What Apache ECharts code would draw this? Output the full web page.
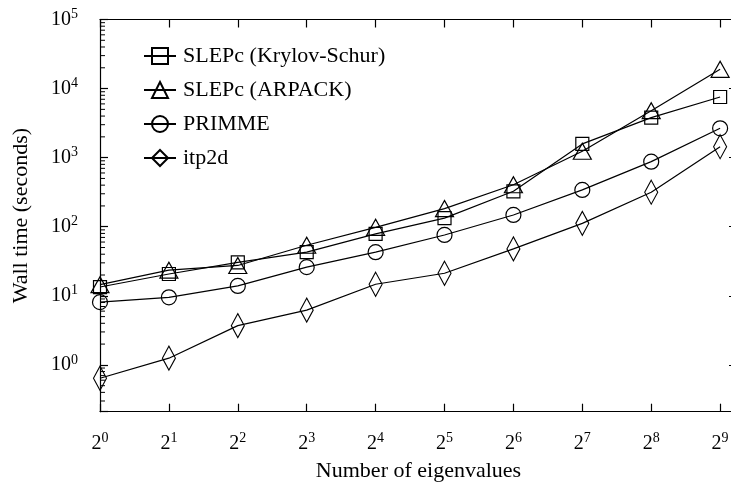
<!DOCTYPE html>
<html><head><meta charset="utf-8">
<script src="https://cdn.jsdelivr.net/npm/echarts@6/dist/echarts.min.js"></script>
<style>html,body{margin:0;padding:0;background:#fff}#c{width:731px;height:489px}</style>
</head><body><div id="c"></div>
<script>
// ---- data ----
const eigenvalueCounts = [1, 2, 4, 8, 16, 32, 64, 128, 256, 512];
const seriesNames = ['SLEPc (Krylov-Schur)', 'SLEPc (ARPACK)', 'PRIMME', 'itp2d'];
const krylovSchur = [13.4, 20.7, 30.5, 43, 79, 133, 326, 1580, 3790, 7550];
const arpack      = [14.5, 23.5, 27.5, 54, 98, 183, 406, 1240, 4790, 19000];
const primme      = [8.1, 9.5, 13.9, 26, 42.8, 76, 148, 341, 875, 2660];
const itp2dTimes  = [0.64, 1.25, 3.7, 6.2, 14.7, 21.2, 47.7, 112, 316, 1440];
const xExponentMax = 9.245;           // right edge of plot in powers of 2
const yMin = 0.21, yMax = 100000;
const minorMultipliers = [2, 3, 4, 5, 6, 7, 8, 9];
const minorDecades = [0.1, 1, 10, 100, 1000, 10000];

// ---- styling ----
const serif = 'Liberation Serif';
const black = '#000';
const yMinorTicks = [];
minorDecades.forEach(d => minorMultipliers.forEach(m => {
  const v = d * m; if (v >= yMin && v <= yMax) yMinorTicks.push(v);
}));

const richX = {
  b: {fontFamily: serif, fontSize: 20, color: black, lineHeight: 24},
  s: {fontFamily: serif, fontSize: 14, color: black, lineHeight: 14, verticalAlign: 'top'}
};
const axisLine = {show: true, onZero: false, lineStyle: {color: black, width: 1.2}};
const axisTick = {show: true, inside: true, length: 8, lineStyle: {color: black, width: 1.2}};

function powLabel(base, v) {
  const k = Math.log(v) / Math.log(base);
  if (Math.abs(k - Math.round(k)) > 0.01) return '';
  return '{b|' + base + '}{s|' + Math.round(k) + '}';
}

const markers = [
  {symbol: 'rect', size: 13},
  {symbol: 'triangle', size: [18, 16]},
  {symbol: 'circle', size: 15},
  {symbol: 'diamond', size: [13, 24]}
];
const allValues = [krylovSchur, arpack, primme, itp2dTimes];

const series = allValues.map((vals, i) => ({
  name: seriesNames[i],
  type: 'line',
  data: eigenvalueCounts.map((x, j) => [x, vals[j]]),
  symbol: markers[i].symbol,
  symbolSize: markers[i].size,
  showSymbol: true,
  itemStyle: {color: 'rgba(255,255,255,0)', borderColor: black, borderWidth: 1.2},
  lineStyle: {color: black, width: 1.2},
  emphasis: {disabled: true},
  z: 3
}));

series.push({
  type: 'custom',
  coordinateSystem: 'cartesian2d',
  silent: true,
  clip: false,
  z: 5,
  data: yMinorTicks.map(v => [1, v]),
  renderItem: function (params, api) {
    const p = api.coord([api.value(0), api.value(1)]);
    return {type: 'line', shape: {x1: p[0], y1: p[1], x2: p[0] + 5, y2: p[1]},
            style: {stroke: black, lineWidth: 1}};
  }
});

const chart = echarts.init(document.getElementById('c'), null, {renderer: 'canvas'});
chart.setOption({
  animation: false,
  backgroundColor: '#fff',
  grid: {left: 100, top: 19.5, right: -6, bottom: 77.3, containLabel: false, outerBoundsMode: 'none'},
  legend: {
    data: seriesNames, orient: 'vertical', left: 138, top: 39,
    itemWidth: 32, itemHeight: 20, itemGap: 10,
    textStyle: {fontFamily: serif, fontSize: 22, color: black, lineHeight: 24, padding: [0, 0, 0, 2]}
  },
  xAxis: [
    {
      type: 'log', logBase: 2, min: 1, max: Math.pow(2, xExponentMax), splitNumber: 9, position: 'bottom',
      axisLine: axisLine, axisTick: axisTick, splitLine: {show: false}, minorTick: {show: false},
      axisLabel: {margin: 20, formatter: v => powLabel(2, v), rich: richX},
      name: 'Number of eigenvalues', nameLocation: 'middle', nameGap: 49,
      nameTextStyle: {fontFamily: serif, fontSize: 22, color: black}
    },
    {
      type: 'log', logBase: 2, min: 1, max: Math.pow(2, xExponentMax), splitNumber: 9, position: 'top',
      axisLine: axisLine, axisTick: axisTick, splitLine: {show: false}, axisLabel: {show: false}
    }
  ],
  yAxis: [
    {
      type: 'log', logBase: 10, min: yMin, max: yMax, position: 'left',
      axisLine: axisLine, axisTick: axisTick, splitLine: {show: false},
      axisLabel: {margin: 22, formatter: v => powLabel(10, v), rich: richX},
      name: 'Wall time (seconds)', nameLocation: 'middle', nameGap: 68, nameRotate: 90,
      nameTextStyle: {fontFamily: serif, fontSize: 22, color: black}
    },
    {
      type: 'log', logBase: 10, min: yMin, max: yMax, position: 'right',
      axisLine: axisLine, axisTick: axisTick, splitLine: {show: false}, axisLabel: {show: false}
    }
  ],
  series: series
});
</script>
</body></html>
